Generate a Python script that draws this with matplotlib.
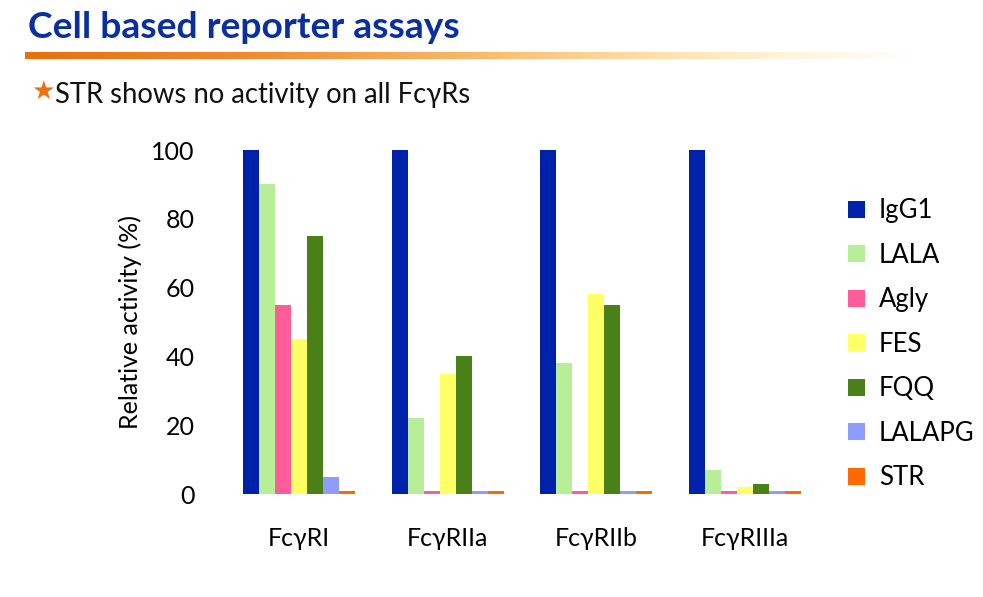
import numpy as np
import matplotlib.pyplot as plt
from matplotlib.colors import LinearSegmentedColormap

receptors = ['Fc\u03b3RI', 'Fc\u03b3RIIa', 'Fc\u03b3RIIb', 'Fc\u03b3RIIIa']
variants = ['IgG1', 'LALA', 'Agly', 'FES', 'FQQ', 'LALAPG', 'STR']
colors = ['#0022AA', '#B8EE98', '#FF5C99', '#FFFF66', '#4A8018', '#8C9CFF', '#FF6A00']

# relative activity (%) per variant, one value per receptor
igg1 = [100, 100, 100, 100]
lala = [90, 22, 38, 7]
agly = [55, 0.8, 0.8, 0.8]
fes = [45, 35, 58, 2]
fqq = [75, 40, 55, 3]
lalapg = [5, 0.8, 0.8, 0.8]
strv = [0.8, 0.8, 0.8, 0.8]
values = [igg1, lala, agly, fes, fqq, lalapg, strv]

yticks = [0, 20, 40, 60, 80, 100]

plt.rcParams['font.family'] = ['Lato', 'DejaVu Sans']

fig = plt.figure(figsize=(9.83, 5.97), dpi=100)

# title and orange rule
fig.text(28/983, 1 - 27/597, 'Cell based reporter assays', fontsize=26.8, fontweight='bold',
         color='#0A2FA0', va='center', ha='left')
cmap = LinearSegmentedColormap.from_list(
    'rule', [(0, '#E8700C'), (0.25, '#F28A2E'), (0.5, '#F9B868'), (0.72, '#FFE2AE'),
             (0.88, '#FFF6E0'), (1, '#FFFFFF')])
rax = fig.add_axes([25/983, 1 - 59/597, 890/983, 7/597])
rax.imshow(np.linspace(0, 1, 256)[None, :], aspect='auto', cmap=cmap)
rax.axis('off')

# subtitle with star
fig.text(31/983, 1 - 92/597, '\u2605', fontsize=19, color='#F07010', va='center', ha='left',
         family='DejaVu Sans')
fig.text(55/983, 1 - 95/597, 'STR shows no activity on all Fc\u03b3Rs', fontsize=19.8,
         color='#111111', va='center', ha='left')

ax = fig.add_axes([224.7/983, 103/597, 594.3/983, 344/597])
x = np.arange(len(receptors))
w = 0.1076
for j, (name, vals) in enumerate(zip(variants, values)):
    ax.bar(x + (j - 3) * w, vals, width=w, color=colors[j], label=name)

ax.set_xlim(-0.5, 3.5)
ax.set_ylim(0, 100)
ax.set_yticks(yticks)
ax.set_xticks(x)
ax.set_xticklabels(receptors)
ax.tick_params(length=0, labelsize=18)
ax.tick_params(axis='y', pad=21.5)
ax.tick_params(axis='x', pad=24)
for s in ax.spines.values():
    s.set_visible(False)
ax.set_ylabel('Relative activity (%)', fontsize=18, labelpad=7)

ax.legend(loc='center left', bbox_to_anchor=(1.01, 0.435), frameon=False, fontsize=18.5,
          handlelength=0.65, handleheight=0.65, labelspacing=0.76, handletextpad=0.55)

fig.savefig('out.png', dpi=100)
